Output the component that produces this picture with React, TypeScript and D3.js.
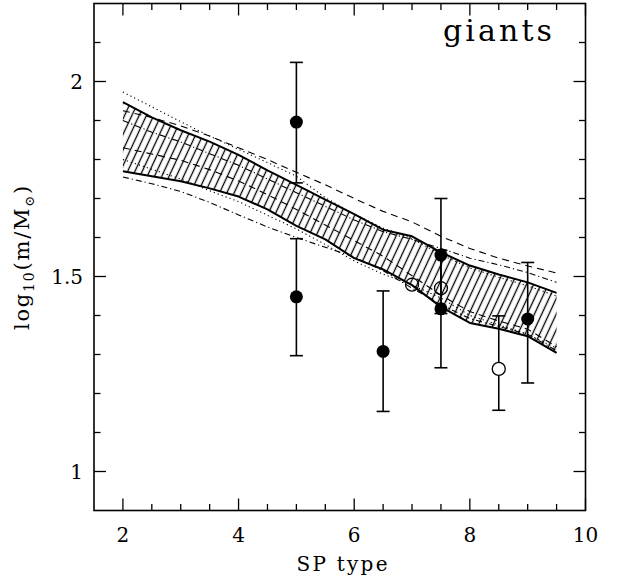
import React from 'react';
import * as d3 from 'd3';

const W = 623;
const H = 583;

// SP type grid for model curves
const spGrid = [2, 2.5, 3, 3.5, 4, 4.5, 5, 5.5, 6, 6.5, 7, 7.5, 8, 8.5, 9, 9.5];

// hatched band (solid edges)
const bandUpper = [1.947, 1.908, 1.875, 1.846, 1.812, 1.772, 1.735, 1.697, 1.660, 1.620, 1.603, 1.562, 1.528, 1.505, 1.485, 1.458];
const bandLower = [1.770, 1.757, 1.744, 1.726, 1.705, 1.672, 1.630, 1.595, 1.547, 1.518, 1.478, 1.422, 1.381, 1.366, 1.347, 1.304];

// other model curves
const dottedUpper = [1.973, 1.935, 1.897, 1.860, 1.826, 1.792, 1.757, 1.702, 1.660, 1.624, 1.597, 1.556, 1.522, 1.498, 1.476, 1.450];
const dottedLower = [1.800, 1.775, 1.750, 1.720, 1.692, 1.657, 1.622, 1.582, 1.540, 1.506, 1.478, 1.445, 1.400, 1.376, 1.352, 1.316];
const dashedUpper = [1.925, 1.908, 1.886, 1.860, 1.830, 1.800, 1.767, 1.735, 1.700, 1.667, 1.640, 1.603, 1.572, 1.547, 1.527, 1.509];
const dashedLower = [1.830, 1.814, 1.798, 1.774, 1.745, 1.710, 1.672, 1.632, 1.592, 1.552, 1.502, 1.452, 1.410, 1.386, 1.365, 1.320];
const dashDotUpper = [1.900, 1.870, 1.845, 1.815, 1.785, 1.750, 1.715, 1.680, 1.645, 1.615, 1.595, 1.572, 1.547, 1.530, 1.510, 1.485];
const dashDotLower = [1.755, 1.738, 1.718, 1.690, 1.658, 1.627, 1.600, 1.575, 1.550, 1.515, 1.470, 1.428, 1.392, 1.372, 1.352, 1.310];

// filled points with error bars
const filledX = [5, 5, 6.5, 7.5, 7.5, 9];
const filledY = [1.896, 1.448, 1.308, 1.555, 1.417, 1.391];
const filledLo = [1.740, 1.297, 1.154, 1.405, 1.266, 1.227];
const filledHi = [2.049, 1.597, 1.463, 1.700, 1.567, 1.536];

// open points (error bar only where given)
const openX = [7, 7.5, 8.5];
const openY = [1.479, 1.470, 1.263];
const openLo = [NaN, NaN, 1.157];
const openHi = [NaN, NaN, 1.399];

const xMajorTicks = [2, 4, 6, 8, 10];
const yMajorTicks = [1, 1.5, 2];
const xTickLabels = ['2', '4', '6', '8', '10'];
const yTickLabels = ['1', '1.5', '2'];

const FONT = '"DejaVu Serif", "Liberation Serif", serif';

export default function App() {
  const x = d3.scaleLinear().domain([1.5, 10]).range([94, 585.5]);
  const y = d3.scaleLinear().domain([0.9, 2.2]).range([510.5, 3.5]);
  const [x0, x1] = x.range();
  const [yb, yt] = y.range();

  const line = d3
    .line<number>()
    .x((_, i) => x(spGrid[i]))
    .y((d) => y(d));
  const area = d3
    .area<number>()
    .x((_, i) => x(spGrid[i]))
    .y0((_, i) => y(bandLower[i]))
    .y1((_, i) => y(bandUpper[i]));

  const xMinor = d3.range(1.5, 10.001, 0.5).filter((v) => !xMajorTicks.some((m) => Math.abs(m - v) < 1e-6) && v > 1.5 && v < 10);
  const yMinor = d3.range(0.9, 2.2001, 0.1).map((v) => Math.round(v * 10) / 10).filter((v) => !yMajorTicks.some((m) => Math.abs(m - v) < 1e-6) && v > 0.9 && v < 2.2);

  const majLen = 12;
  const minLen = 6.5;
  const cap = 6.5;
  const r = 6.5;

  const curves: { d: number[]; dash: string; w: number }[] = [
    { d: dottedUpper, dash: '1.2 3', w: 1.1 },
    { d: dottedLower, dash: '1.2 3', w: 1.1 },
    { d: dashedUpper, dash: '7 5', w: 1.1 },
    { d: dashedLower, dash: '7 5', w: 1.1 },
    { d: dashDotUpper, dash: '6 3 1.2 3', w: 1.1 },
    { d: dashDotLower, dash: '6 3 1.2 3', w: 1.1 },
  ];

  return (
    <svg width={W} height={H} style={{ position: 'absolute', left: 0, top: 0, background: '#fff' }}>
      <defs>
        <pattern id="hatch" patternUnits="userSpaceOnUse" width={6.6} height={20} patternTransform="rotate(25)">
          <line x1={3.3} y1={-5} x2={3.3} y2={25} stroke="#000" strokeWidth={1.3} />
        </pattern>
        <clipPath id="plotclip">
          <rect x={x0} y={yt} width={x1 - x0} height={yb - yt} />
        </clipPath>
      </defs>
      <rect width={W} height={H} fill="#fff" />
      <g clipPath="url(#plotclip)">
        <path d={area(bandUpper) || ''} fill="url(#hatch)" stroke="none" />
        {curves.map((c, i) => (
          <path key={i} d={line(c.d) || ''} fill="none" stroke="#000" strokeWidth={c.w} strokeDasharray={c.dash} />
        ))}
        <path d={line(bandUpper) || ''} fill="none" stroke="#000" strokeWidth={2} strokeLinejoin="round" />
        <path d={line(bandLower) || ''} fill="none" stroke="#000" strokeWidth={2} strokeLinejoin="round" />
        <line x1={x(spGrid[0])} x2={x(spGrid[0])} y1={y(bandUpper[0])} y2={y(bandLower[0])} stroke="#000" strokeWidth={0.8} opacity={0} />
      </g>

      {/* error bars, filled */}
      {filledX.map((v, i) => (
        <g key={'fe' + i} stroke="#000" strokeWidth={1.6}>
          <line x1={x(v)} x2={x(v)} y1={y(filledLo[i])} y2={y(filledHi[i])} />
          <line x1={x(v) - cap} x2={x(v) + cap} y1={y(filledLo[i])} y2={y(filledLo[i])} />
          <line x1={x(v) - cap} x2={x(v) + cap} y1={y(filledHi[i])} y2={y(filledHi[i])} />
        </g>
      ))}
      {openX.map((v, i) =>
        isNaN(openLo[i]) ? null : (
          <g key={'oe' + i} stroke="#000" strokeWidth={1.6}>
            <line x1={x(v)} x2={x(v)} y1={y(openLo[i])} y2={y(openY[i]) + r} />
            <line x1={x(v)} x2={x(v)} y1={y(openY[i]) - r} y2={y(openHi[i])} />
            <line x1={x(v) - cap} x2={x(v) + cap} y1={y(openLo[i])} y2={y(openLo[i])} />
            <line x1={x(v) - cap} x2={x(v) + cap} y1={y(openHi[i])} y2={y(openHi[i])} />
          </g>
        )
      )}
      {filledX.map((v, i) => (
        <circle key={'fc' + i} cx={x(v)} cy={y(filledY[i])} r={r} fill="#000" />
      ))}
      {openX.map((v, i) => (
        <circle key={'oc' + i} cx={x(v)} cy={y(openY[i])} r={r} fill="none" stroke="#000" strokeWidth={1.3} />
      ))}

      {/* frame */}
      <rect x={x0} y={yt} width={x1 - x0} height={yb - yt} fill="none" stroke="#000" strokeWidth={1.6} />

      {/* ticks */}
      <g stroke="#000" strokeWidth={1.3}>
        {xMajorTicks.map((t) => (
          <g key={'xM' + t}>
            <line x1={x(t)} x2={x(t)} y1={yb} y2={yb - majLen} />
            <line x1={x(t)} x2={x(t)} y1={yt} y2={yt + majLen} />
          </g>
        ))}
        {xMinor.map((t) => (
          <g key={'xm' + t}>
            <line x1={x(t)} x2={x(t)} y1={yb} y2={yb - minLen} />
            <line x1={x(t)} x2={x(t)} y1={yt} y2={yt + minLen} />
          </g>
        ))}
        {yMajorTicks.map((t) => (
          <g key={'yM' + t}>
            <line x1={x0} x2={x0 + majLen} y1={y(t)} y2={y(t)} />
            <line x1={x1} x2={x1 - majLen} y1={y(t)} y2={y(t)} />
          </g>
        ))}
        {yMinor.map((t) => (
          <g key={'ym' + t}>
            <line x1={x0} x2={x0 + minLen} y1={y(t)} y2={y(t)} />
            <line x1={x1} x2={x1 - minLen} y1={y(t)} y2={y(t)} />
          </g>
        ))}
      </g>

      {/* tick labels */}
      <g fontFamily={FONT} fontSize={20} fill="#000">
        {xMajorTicks.map((t, i) => (
          <text key={'xl' + t} x={x(t)} y={542.3} textAnchor="middle">
            {xTickLabels[i]}
          </text>
        ))}
        {yMajorTicks.map((t, i) => (
          <text key={'yl' + t} x={83} y={y(t)} dy="0.36em" textAnchor="end">
            {yTickLabels[i]}
          </text>
        ))}
      </g>

      {/* axis titles */}
      <text x={342} y={570.7} textAnchor="middle" fontFamily={FONT} fontSize={20} textLength={91} lengthAdjust="spacing">
        SP type
      </text>
      <text
        transform={`translate(28.5, 257) rotate(-90)`}
        textAnchor="middle"
        fontFamily={FONT}
        fontSize={21}
        letterSpacing={1.8}
      >
        log
        <tspan fontSize={14} dy={5}>10</tspan>
        <tspan dy={-5}>(m/M</tspan>
        <tspan fontSize={13} dy={5}>⊙</tspan>
        <tspan dy={-5}>)</tspan>
      </text>

      <text x={443} y={40.7} fontFamily={FONT} fontSize={30} textLength={109} lengthAdjust="spacing">
        giants
      </text>
    </svg>
  );
}
